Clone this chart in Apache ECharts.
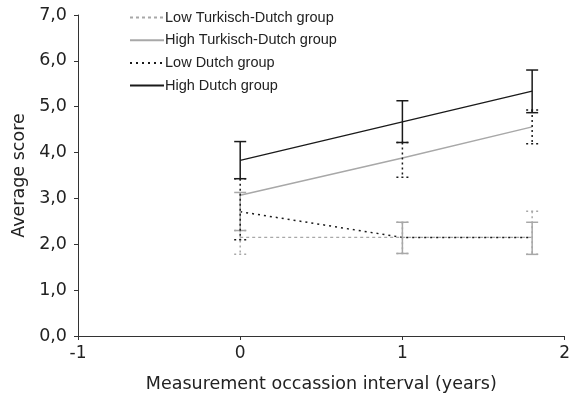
<!DOCTYPE html>
<html>
<head>
<meta charset="utf-8">
<script src="https://cdn.jsdelivr.net/npm/echarts@6/dist/echarts.min.js"></script>
<style>
  html, body { margin: 0; padding: 0; background: #fff; }
  #chart { width: 573px; height: 398px; }
</style>
</head>
<body>
<div id="chart"></div>
<script>
var occasions = [0, 1, 1.8];
var lowTurkMean = [2.15, 2.15, 2.15];
var highTurkMean = [3.07, 3.88, 4.56];
var lowDutchMean = [2.71, 2.15, 2.15];
var highDutchMean = [3.83, 4.67, 5.34];

// error bars as seen in the figure (low / high ends)
var lowTurkErrLow = [1.78, 1.80, 1.78];
var lowTurkErrHigh = [2.30, 2.48, 2.72];
var highTurkErrLow = [2.30, 1.80, 1.78];
var highTurkErrHigh = [3.13, 2.48, 2.48];
var lowDutchErrLow = [2.10, 3.46, 4.19];
var lowDutchErrHigh = [3.43, 4.22, 4.93];
var highDutchErrLow = [3.43, 4.22, 4.87];
var highDutchErrHigh = [4.24, 5.13, 5.80];

var yTicks = [0, 1, 2, 3, 4, 5, 6, 7];

var grey = '#a8a8a8';
var black = '#1a1a1a';

function pairs(ys) {
    return occasions.map(function (x, i) { return [x, ys[i]]; });
}
function bars(lo, hi) {
    return occasions.map(function (x, i) { return [x, lo[i], hi[i]]; });
}

function errorSeries(name, lo, hi, color, dash) {
    return {
        type: 'custom',
        name: name,
        silent: true,
        data: bars(lo, hi),
        encode: { x: 0, y: [1, 2] },
        renderItem: function (params, api) {
            var top = api.coord([api.value(0), api.value(2)]);
            var bot = api.coord([api.value(0), api.value(1)]);
            var w = 6;
            var style = { stroke: color, lineWidth: 1.5, lineDash: dash };
            return {
                type: 'group',
                children: [
                    { type: 'line', shape: { x1: top[0], y1: top[1], x2: bot[0], y2: bot[1] }, style: style },
                    { type: 'line', shape: { x1: top[0] - w, y1: top[1], x2: top[0] + w, y2: top[1] }, style: style },
                    { type: 'line', shape: { x1: bot[0] - w, y1: bot[1], x2: bot[0] + w, y2: bot[1] }, style: style }
                ]
            };
        },
        z: 3
    };
}

var chart = echarts.init(document.getElementById('chart'), null, { renderer: 'canvas' });

var option = {
    animation: false,
    grid: { left: 78, right: 6, top: 15, bottom: 61 },
    legend: {
        orient: 'vertical',
        left: 124,
        top: 5,
        itemWidth: 34,
        itemHeight: 14,
        itemGap: 7.7,
        itemStyle: { opacity: 0 },
        data: ['Low Turkisch-Dutch group', 'High Turkisch-Dutch group', 'Low Dutch group', 'High Dutch group'],
        textStyle: { fontFamily: 'Liberation Sans', fontSize: 14.5, color: '#222', padding: [0, 0, 0, -4] }
    },
    xAxis: {
        type: 'value',
        min: -1,
        max: 2,
        interval: 1,
        name: 'Measurement occassion interval (years)',
        nameLocation: 'middle',
        nameGap: 39,
        nameTextStyle: { fontFamily: 'DejaVu Sans', fontSize: 17.5, color: '#222' },
        axisLine: { onZero: false, lineStyle: { color: '#333', width: 1 } },
        axisTick: { show: true, length: 4, lineStyle: { color: '#333' } },
        axisLabel: { fontFamily: 'DejaVu Sans', fontSize: 17, color: '#222', margin: 9 },
        splitLine: { show: false }
    },
    yAxis: {
        type: 'value',
        min: yTicks[0],
        max: yTicks[yTicks.length - 1],
        interval: 1,
        name: 'Average score',
        nameLocation: 'middle',
        nameGap: 50,
        nameTextStyle: { fontFamily: 'DejaVu Sans', fontSize: 17.5, color: '#222' },
        axisLine: { show: true, onZero: false, lineStyle: { color: '#333', width: 1 } },
        axisTick: { show: true, length: 4, lineStyle: { color: '#333' } },
        axisLabel: {
            fontFamily: 'DejaVu Sans', fontSize: 17.5, color: '#222', margin: 11,
            formatter: function (v) { return v.toFixed(1).replace('.', ','); }
        },
        splitLine: { show: false }
    },
    series: [
        {
            name: 'Low Turkisch-Dutch group', type: 'line', data: pairs(lowTurkMean),
            symbol: 'none', lineStyle: { color: grey, width: 1.3, type: [3, 3] }, itemStyle: { color: grey }, z: 2
        },
        {
            name: 'High Turkisch-Dutch group', type: 'line', data: pairs(highTurkMean),
            symbol: 'none', lineStyle: { color: grey, width: 1.5, type: 'solid' }, itemStyle: { color: grey }, z: 2
        },
        {
            name: 'Low Dutch group', type: 'line', data: pairs(lowDutchMean),
            symbol: 'none', lineStyle: { color: black, width: 1.5, type: [2, 4] }, itemStyle: { color: black }, z: 2
        },
        {
            name: 'High Dutch group', type: 'line', data: pairs(highDutchMean),
            symbol: 'none', lineStyle: { color: black, width: 1.3, type: 'solid' }, itemStyle: { color: black }, z: 2
        },
        errorSeries('lowTurkErr', lowTurkErrLow, lowTurkErrHigh, grey, [2, 3]),
        errorSeries('highTurkErr', highTurkErrLow, highTurkErrHigh, grey, null),
        errorSeries('lowDutchErr', lowDutchErrLow, lowDutchErrHigh, black, [2, 3]),
        errorSeries('highDutchErr', highDutchErrLow, highDutchErrHigh, black, null)
    ]
};
chart.setOption(option);
</script>
</body>
</html>
